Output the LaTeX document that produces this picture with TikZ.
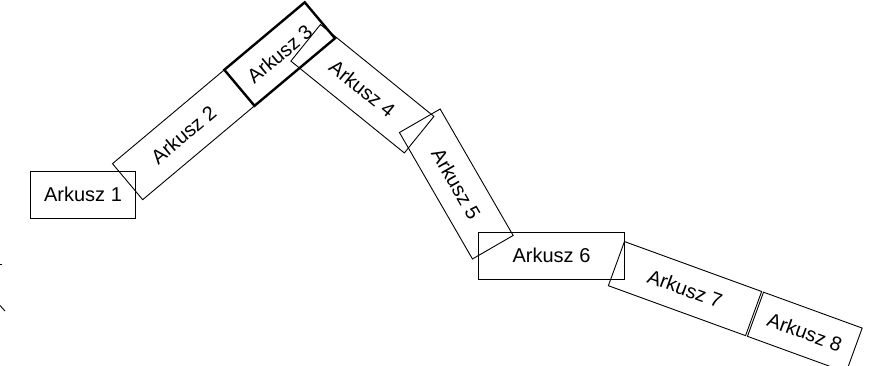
\documentclass[tikz,border=0pt]{standalone}
\usepackage{fontspec}
\setmainfont{Liberation Sans}
\usepackage{pgf,tikz}

\begin{document}
\begin{tikzpicture}[x=1pt, y=1pt,
    sheet/.style={rectangle, draw, line width=0.9pt, minimum width=146pt, minimum height=47pt,
      inner sep=0pt, outer sep=0pt, font=\fontsize{20}{24}\selectfont},
    short/.style={minimum width=105pt}]
  \useasboundingbox (0,0) rectangle (881,-366);
  \node[sheet, short] (ark1) at (83,-194.5) {Arkusz 1};
  \node[sheet, rotate=40] (ark2) at (183.5,-134.75) {Arkusz 2};
  \node[sheet, short, rotate=40, anchor=west, line width=2.4pt] (ark3) at (ark2.east) {Arkusz 3};
  \node[sheet, rotate=-39] (ark4) at (362.4,-88.75) {Arkusz 4};
  \node[sheet, rotate=-60] (ark5) at (456.3,-184) {Arkusz 5};
  \node[sheet] (ark6) at (551.5,-255.5) {Arkusz 6};
  \node[sheet, rotate=-20] (ark7) at (685,-288.6) {Arkusz 7};
  \node[sheet, short, rotate=-20, anchor=west] (ark8) at ([shift={(-20:2)}]ark7.east) {Arkusz 8};
  % pieces at the left edge
  \draw[line width=0.9pt] (0,-264) -- (2,-264);
  \draw[line width=0.9pt] (0,-305.5) -- (5,-311);
\end{tikzpicture}
\end{document}
